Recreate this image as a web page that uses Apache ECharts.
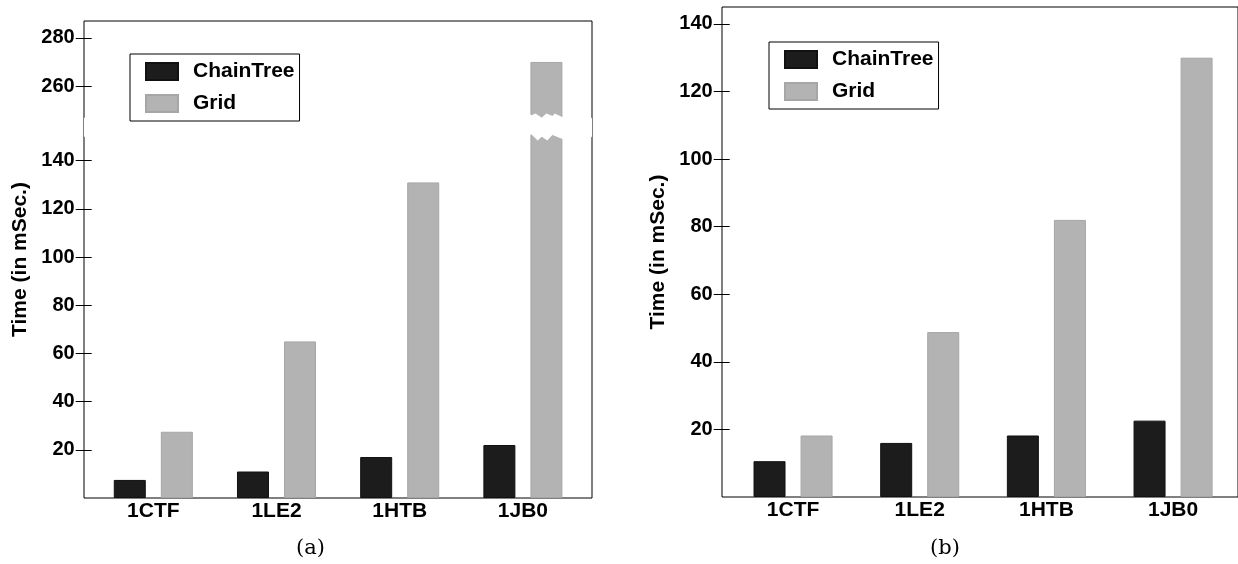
<!DOCTYPE html>
<html>
<head>
<meta charset="utf-8">
<script src="https://cdn.jsdelivr.net/npm/echarts@6.0.0/dist/echarts.min.js"></script>
<style>
html, body { margin: 0; padding: 0; background: #fff; }
#main { width: 1238px; height: 564px; }
</style>
</head>
<body>
<div id="main"></div>
<script>
// data
var categories = ['1CTF', '1LE2', '1HTB', '1JB0'];
var chainTreeA = [7.5, 11, 17, 22];
var gridA = [27.5, 65, 131, 270];
var chainTreeB = [10.6, 16, 18.2, 22.6];
var gridB = [18.2, 48.8, 82, 130];
var ticksA = [20, 40, 60, 80, 100, 120, 140, 260, 280];
var ticksB = [20, 40, 60, 80, 100, 120, 140];
var breakA = [{ start: 150, end: 247, gap: 8 }];

var font = 'Liberation Sans, Arial, sans-serif';
var black = '#1c1c1c', grey = '#b3b3b3';

var breakStyle = {
    show: true,
    expandOnClick: false,
    zigzagAmplitude: 4,
    zigzagZ: 100,
    itemStyle: { color: '#fff', borderWidth: 0, opacity: 1 }
};

function valueAxis(gridIndex, max, ticks, breaks) {
    var ax = {
        gridIndex: gridIndex,
        type: 'value',
        min: 0,
        max: max,
        name: 'Time (in mSec.)',
        nameLocation: 'middle',
        nameGap: 61,
        nameTextStyle: { fontFamily: font, fontWeight: 'bold', fontSize: 21, color: '#000' },
        splitLine: { show: false },
        axisLine: { show: false },
        axisTick: { show: true, inside: false, length: 16, customValues: ticks,
                    lineStyle: { color: '#000', width: 1 } },
        axisLabel: { margin: 17, customValues: ticks, fontFamily: font, fontWeight: 'bold',
                     fontSize: 20, color: '#000' }
    };
    if (breaks) {
        ax.breaks = breaks;
        ax.breakArea = breakStyle;
    }
    return ax;
}

// frame axis: only there so the frame gets the same break
function frameAxis(gridIndex, max, breaks) {
    var ax = {
        gridIndex: gridIndex, type: 'value', min: 0, max: max,
        splitLine: { show: false }, axisLine: { show: false },
        axisTick: { show: false }, axisLabel: { show: false }
    };
    if (breaks) {
        ax.breaks = breaks;
        ax.breakArea = breakStyle;
    }
    return ax;
}

function catAxis(gridIndex) {
    return {
        gridIndex: gridIndex,
        type: 'category',
        data: categories,
        axisLine: { show: false },
        axisTick: { show: false },
        axisLabel: { margin: 3, fontFamily: font, fontWeight: 'bold', fontSize: 21, color: '#000' }
    };
}

function hidden(gridIndex) {
    return { gridIndex: gridIndex, type: 'value', show: false, min: 0, max: 1 };
}

function legend(left, top) {
    return {
        z: 300,
        left: left, top: top,
        orient: 'vertical',
        data: ['ChainTree', 'Grid'],
        icon: 'rect',
        itemWidth: 32, itemHeight: 17, itemGap: 11,
        padding: [7, 5, 7, 15],
        borderColor: '#000', borderWidth: 1,
        backgroundColor: '#fff',
        selectedMode: false,
        textStyle: { fontFamily: font, fontWeight: 'bold', fontSize: 21, color: '#000',
                     padding: [0, 0, 0, 10] }
    };
}

function bars(name, data, xi, color, border) {
    return {
        name: name, type: 'bar', data: data,
        xAxisIndex: xi, yAxisIndex: xi,
        barWidth: 32, barGap: '47%',
        itemStyle: { color: color, borderColor: border, borderWidth: 1 }
    };
}

var myChart = echarts.init(document.getElementById('main'));
var option = {
    animation: false,
    title: [
        { text: '(a)', left: 291, top: 533,
          textStyle: { fontFamily: 'DejaVu Serif, serif', fontWeight: 'normal', fontSize: 21, color: '#000' } },
        { text: '(b)', left: 925, top: 533,
          textStyle: { fontFamily: 'DejaVu Serif, serif', fontWeight: 'normal', fontSize: 21, color: '#000' } }
    ],
    legend: [legend(130, 54), legend(769, 42)],
    grid: [
        // frames
        { left: 84, top: 21, width: 508, bottom: 66, show: true, borderColor: '#000', borderWidth: 1 },
        // left bars
        { left: 91.7, top: 21, width: 492.8, bottom: 66 },
        { left: 722, top: 7, width: 522, bottom: 67, show: true, borderColor: '#000', borderWidth: 1 },
        { left: 729.7, top: 7, width: 506.7, bottom: 67 }
    ],
    xAxis: [hidden(0), catAxis(1), hidden(2), catAxis(3)],
    yAxis: [
        frameAxis(0, 287, breakA),
        valueAxis(1, 287, ticksA, breakA),
        frameAxis(2, 145, null),
        valueAxis(3, 145, ticksB, null)
    ],
    series: [
        bars('ChainTree', chainTreeA, 1, black, '#111'),
        bars('Grid', gridA, 1, grey, '#a6a6a6'),
        bars('ChainTree', chainTreeB, 3, black, '#111'),
        bars('Grid', gridB, 3, grey, '#a6a6a6')
    ]
};
myChart.setOption(option);
</script>
</body>
</html>
